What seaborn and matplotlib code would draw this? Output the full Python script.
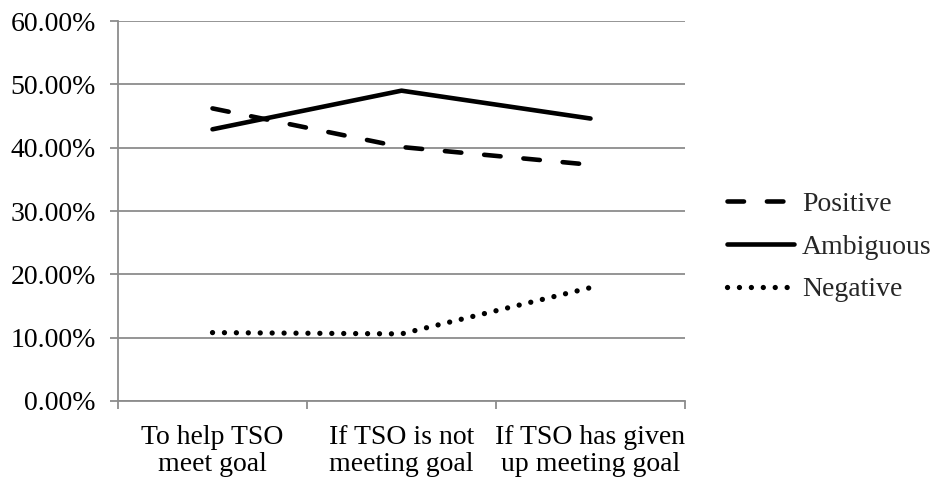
import matplotlib
matplotlib.use("Agg")
import matplotlib.pyplot as plt
from matplotlib.ticker import FuncFormatter, FixedLocator
import pandas as pd
import seaborn as sns

categories = ["To help TSO\nmeet goal", "If TSO is not\nmeeting goal", "If TSO has given\nup meeting goal"]
positive = [46.2, 40.1, 37.3]
ambiguous = [42.9, 49.0, 44.6]
negative = [10.8, 10.6, 17.9]
y_ticks = [0, 10, 20, 30, 40, 50, 60]

sns.set_theme(style="white")
plt.rcParams["font.family"] = ["Liberation Serif", "DejaVu Serif"]
plt.rcParams["font.size"] = 20

fig = plt.figure(figsize=(9.34, 4.8), dpi=100)
ax = fig.add_axes([118 / 934, 1 - 401 / 480, (685 - 118) / 934, (401 - 21) / 480])

series = [
    ("Positive", positive, dict(linestyle=(0, (3.6, 5.0)), linewidth=3.3, dash_capstyle="round")),
    ("Ambiguous", ambiguous, dict(linestyle="-", linewidth=3.3, solid_capstyle="round")),
    ("Negative", negative, dict(linestyle=(0, (0.01, 2.25)), linewidth=3.8, dash_capstyle="round")),
]
for name, vals, style in series:
    df = pd.DataFrame({"cat": categories, "val": vals})
    sns.lineplot(data=df, x="cat", y="val", ax=ax, color="black", label=name, sort=False, **style)

ax.set_xlim(-0.5, 2.5)
ax.set_ylim(0, 60)
ax.set_yticks(y_ticks)
ax.yaxis.set_major_formatter(FuncFormatter(lambda v, p: f"{v:.2f}%"))
ax.yaxis.grid(True, color="#8c8c8c", linewidth=1.3)
ax.set_axisbelow(True)

ax.set_xticks(range(len(categories)))
ax.set_xticklabels(categories, linespacing=1.12)
ax.xaxis.set_minor_locator(FixedLocator([-0.5, 0.5, 1.5, 2.5]))
ax.tick_params(axis="x", which="major", length=0, pad=17, labelsize=20, colors="black")
ax.tick_params(axis="x", which="minor", length=6, width=1.3, color="#8c8c8c", bottom=True)
ax.tick_params(axis="y", which="major", length=6, width=1.3, color="#8c8c8c", left=True, pad=10, labelsize=20, labelcolor="black")
ax.set_xlabel("")
ax.set_ylabel("")

for s in ["top", "right"]:
    ax.spines[s].set_visible(False)
for s in ["left", "bottom"]:
    ax.spines[s].set_color("#8c8c8c")
    ax.spines[s].set_linewidth(1.3)

handles, labels = ax.get_legend_handles_labels()
ax.legend(handles, labels, loc="center left", bbox_to_anchor=(727 / 934, 1 - 247 / 480),
          bbox_transform=fig.transFigure, frameon=False, fontsize=20,
          handlelength=2.4, handletextpad=0.3, labelspacing=0.62, borderaxespad=0, borderpad=0)

fig.savefig("out.png", dpi=100)
